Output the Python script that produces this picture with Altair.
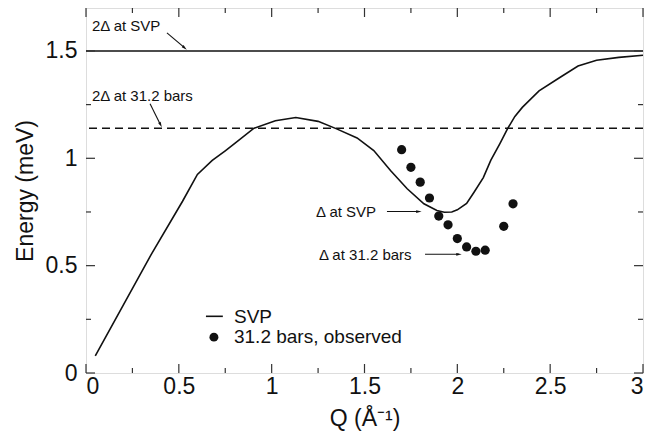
import math
import altair as alt
import pandas as pd

# ---------------- data ----------------
svp_q = [0.05, 0.20, 0.35, 0.52, 0.60, 0.68, 0.75, 0.81, 0.905, 1.02, 1.13, 1.25, 1.35,
         1.46, 1.55, 1.64, 1.73, 1.82, 1.89, 1.93, 1.97, 2.00, 2.05, 2.09, 2.14, 2.18,
         2.23, 2.27, 2.31, 2.35, 2.44, 2.55, 2.65, 2.75, 2.87, 3.00]
svp_e = [0.08, 0.315, 0.55, 0.80, 0.925, 0.99, 1.035, 1.075, 1.14, 1.175, 1.19, 1.172, 1.137,
         1.095, 1.036, 0.943, 0.858, 0.788, 0.757, 0.749, 0.75, 0.76, 0.79, 0.842, 0.91, 0.99,
         1.07, 1.137, 1.195, 1.237, 1.314, 1.375, 1.43, 1.457, 1.47, 1.48]

obs_q = [1.70, 1.75, 1.80, 1.85, 1.90, 1.95, 2.00, 2.05, 2.10, 2.15, 2.25, 2.30]
obs_e = [1.04, 0.958, 0.889, 0.815, 0.731, 0.69, 0.626, 0.587, 0.567, 0.572, 0.683, 0.788]

gap_levels = [1.5, 1.14]
gap_dash = ["solid", "dashed"]

ann_text = ["2\u0394 at SVP", "2\u0394 at 31.2 bars", "\u0394 at SVP", "\u0394 at 31.2 bars"]
ann_x = [0.032, 0.032, 1.239, 1.255]
ann_y = [1.616, 1.291, 0.749, 0.548]
arr_x1 = [0.436, 0.345, 1.621, 1.826]
arr_y1 = [1.584, 1.254, 0.752, 0.553]
arr_x2 = [0.544, 0.409, 1.809, 2.025]
arr_y2 = [1.505, 1.143, 0.752, 0.553]

leg_text = ["SVP", "31.2 bars, observed"]
leg_text_x = [0.797, 0.797]
leg_text_y = [0.262, 0.167]
leg_line_x = [0.646, 0.737]
leg_line_y = 0.264
leg_dot_x = 0.689
leg_dot_y = 0.167

x_major = [0, 0.5, 1, 1.5, 2, 2.5, 3]
x_minor = [0.25, 0.75, 1.25, 1.75, 2.25, 2.75]
y_major = [0, 0.5, 1, 1.5]
y_minor = [0.25, 0.75, 1.25]

# ---------------- layout ----------------
W, H = 557, 365
XD, YD = [0, 3], [0, 1.7]
FONT = "Liberation Sans, Arial, Helvetica"
INK = "#111111"
MAJ, MIN = 9, 5

xs = alt.Scale(domain=XD, nice=False, zero=False)
ys = alt.Scale(domain=YD, nice=False, zero=False)

xaxis = alt.Axis(values=x_major, format="~g", tickSize=0, domain=False, grid=False,
                 labelFontSize=23, labelPadding=2, labelColor=INK, labelFont=FONT,
                 title="Q (\u00c5\u207b\u00b9)", titleFontSize=23, titleFontWeight="normal",
                 titleColor=INK, titleFont=FONT, titlePadding=9)
yaxis = alt.Axis(values=y_major, format="~g", tickSize=0, domain=False, grid=False,
                 labelFontSize=23, labelPadding=9, labelColor=INK, labelFont=FONT,
                 title="Energy (meV)", titleFontSize=23, titleFontWeight="normal",
                 titleColor=INK, titleFont=FONT, titlePadding=8)

svp_df = pd.DataFrame({"Q": svp_q, "E": svp_e})
obs_df = pd.DataFrame({"Q": obs_q, "E": obs_e})
gap_df = pd.DataFrame({"E": gap_levels, "kind": gap_dash})

curve = alt.Chart(svp_df).mark_line(color=INK, strokeWidth=1.6).encode(
    x=alt.X("Q:Q", scale=xs, axis=xaxis),
    y=alt.Y("E:Q", scale=ys, axis=yaxis),
)

solid = alt.Chart(gap_df[gap_df.kind == "solid"]).mark_rule(color=INK, strokeWidth=1.6).encode(
    y=alt.Y("E:Q", scale=ys))
dashed = alt.Chart(gap_df[gap_df.kind == "dashed"]).mark_rule(
    color=INK, strokeWidth=1.6, strokeDash=[8, 5]).encode(y=alt.Y("E:Q", scale=ys))

points = alt.Chart(obs_df).mark_circle(color=INK, size=85, opacity=1).encode(
    x=alt.X("Q:Q", scale=xs), y=alt.Y("E:Q", scale=ys))

ann_df = pd.DataFrame({"t": ann_text, "x": ann_x, "y": ann_y})
ann = alt.Chart(ann_df).mark_text(align="left", baseline="middle", fontSize=15,
                                  font=FONT, color=INK).encode(
    x=alt.X("x:Q", scale=xs), y=alt.Y("y:Q", scale=ys), text="t:N")

arr_df = pd.DataFrame({"x1": arr_x1, "y1": arr_y1, "x2": arr_x2, "y2": arr_y2})
arr_df["ang"] = [
    math.degrees(math.atan2((b - a) * W / 3, (d - c) * H / 1.7)) % 360
    for a, b, c, d in zip(arr_x1, arr_x2, arr_y1, arr_y2)
]
back = []
for a, b, c, d in zip(arr_x1, arr_x2, arr_y1, arr_y2):
    dxp, dyp = (b - a) * W / 3, (d - c) * H / 1.7
    L = math.hypot(dxp, dyp)
    back.append((b - 3 * dxp / L * 3 / W, d - 3 * dyp / L * 1.7 / H))
arr_df["hx"] = [p[0] for p in back]
arr_df["hy"] = [p[1] for p in back]

arr_lines = alt.Chart(arr_df).mark_rule(color=INK, strokeWidth=1.1).encode(
    x=alt.X("x1:Q", scale=xs), y=alt.Y("y1:Q", scale=ys), x2="hx:Q", y2="hy:Q")
arr_heads = alt.Chart(arr_df).mark_point(shape="M-0.5,1L0,-1L0.5,1Z", filled=True, color=INK,
                                         size=30, opacity=1).encode(
    x=alt.X("hx:Q", scale=xs), y=alt.Y("hy:Q", scale=ys),
    angle=alt.Angle("ang:Q", scale=None))

leg_df = pd.DataFrame({"t": leg_text, "x": leg_text_x, "y": leg_text_y})
leg_txt = alt.Chart(leg_df).mark_text(align="left", baseline="middle", fontSize=19,
                                      font=FONT, color=INK).encode(
    x=alt.X("x:Q", scale=xs), y=alt.Y("y:Q", scale=ys), text="t:N")
leg_line = alt.Chart(pd.DataFrame({"x": [leg_line_x[0]], "x2": [leg_line_x[1]],
                                   "y": [leg_line_y]})).mark_rule(
    color=INK, strokeWidth=1.6).encode(
    x=alt.X("x:Q", scale=xs), x2="x2:Q", y=alt.Y("y:Q", scale=ys))
leg_dot = alt.Chart(pd.DataFrame({"x": [leg_dot_x], "y": [leg_dot_y]})).mark_circle(
    color=INK, size=80, opacity=1).encode(x=alt.X("x:Q", scale=xs), y=alt.Y("y:Q", scale=ys))

TC = "#333333"
def xticks(vals, ln):
    d = pd.DataFrame({"v": vals})
    bot = alt.Chart(d).mark_rule(color=TC, strokeWidth=1.2).encode(
        x=alt.X("v:Q", scale=xs), y=alt.value(H), y2=alt.value(H - ln))
    top = alt.Chart(d).mark_rule(color=TC, strokeWidth=1.2).encode(
        x=alt.X("v:Q", scale=xs), y=alt.value(0), y2=alt.value(ln))
    return [bot, top]

def yticks(vals, ln):
    d = pd.DataFrame({"v": vals})
    left = alt.Chart(d).mark_rule(color=TC, strokeWidth=1.2).encode(
        y=alt.Y("v:Q", scale=ys), x=alt.value(0), x2=alt.value(ln))
    right = alt.Chart(d).mark_rule(color=TC, strokeWidth=1.2).encode(
        y=alt.Y("v:Q", scale=ys), x=alt.value(W), x2=alt.value(W - ln))
    return [left, right]

ticks = xticks(x_major, MAJ) + xticks(x_minor, MIN) + yticks(y_major, MAJ) + yticks(y_minor, MIN)

chart = alt.layer(
    curve, solid, dashed, points, ann, arr_lines, arr_heads, leg_line, leg_dot, leg_txt, *ticks
).properties(
    width=W, height=H,
    autosize=alt.AutoSizeParams(type="none"),
    padding={"left": 78, "top": 0, "right": 9, "bottom": 62},
).configure_view(stroke="#333333", strokeWidth=1.5).configure(background="white")

chart.save("out.html", embed_options={"renderer": "svg", "actions": False})
